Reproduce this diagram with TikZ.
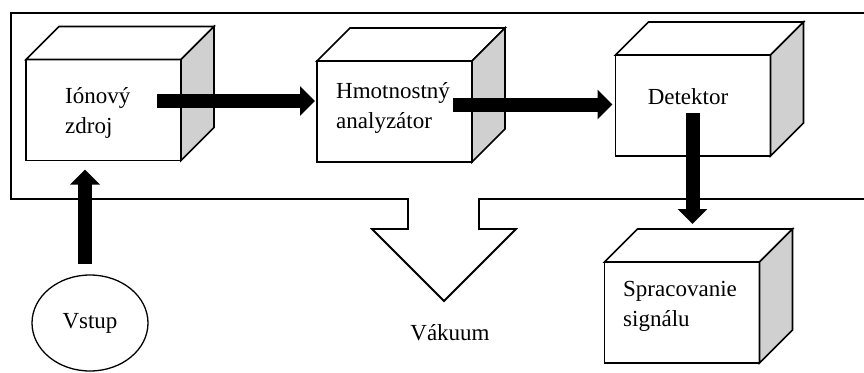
\documentclass[tikz,border=0pt]{standalone}
\usepackage{fontspec}
\setmainfont{Liberation Serif}
\usetikzlibrary{arrows.meta,shapes.geometric}
\definecolor{sidegray}{HTML}{D0D0D0}
\tikzset{
  face/.style={draw=black, line width=1.6pt, fill=white, minimum width=155pt,
    minimum height=101pt, inner sep=0pt, outer sep=0pt},
  cubeline/.style={draw=black, line width=1.6pt, line join=miter},
  lbl/.style={font=\fontsize{23}{30}\selectfont, align=left, inner sep=0pt},
  bigarrow/.style={line width=14pt, -{Triangle[length=15pt,width=29pt]}},
  framepath/.style={line width=1.8pt, line join=miter},
}
\newcommand\mycube[3]{%
  \node[face] (#1) at (#2,#3) {};
  \draw[cubeline, fill=white] (#1.north west) -- ++(33,-33) -- ++(155,0) -- (#1.north east) -- cycle;
  \draw[cubeline, fill=sidegray] (#1.north east) -- ++(33,-33) -- ++(0,101) -- (#1.south east) -- cycle;
}
\begin{document}
\begin{tikzpicture}[x=1pt,y=-1pt]
\useasboundingbox (0,0) rectangle (864,372);
% frame with vacuum notch
\draw[framepath] (864,13) -- (11,13) -- (11,199) -- (408,199) -- (408,229) -- (372,229)
  -- (444,301) -- (516,229) -- (479,229) -- (479,199) -- (864,199);
\node[lbl, anchor=center] (vak) at (450,333) {Vákuum};
% cubes
\mycube{ion}{103.5}{110}
\mycube{hm}{394.5}{111.5}
\mycube{det}{693}{105.5}
\mycube{sp}{682}{312.5}
% labels
\node[lbl, anchor=west] (ionl) at (65,113) {Iónový\\zdroj};
\node[lbl, anchor=west] (hml) at (336,108) {Hmotnostný\\analyzátor};
\node[lbl, anchor=center] (detl) at (688,97) {Detektor};
\node[lbl, anchor=west] (spl) at (623,306.5) {Spracovanie\\signálu};
% input
\node[draw, ellipse, line width=1.3pt, minimum width=116pt, minimum height=96pt,
  inner sep=0pt, outer sep=0pt, font=\fontsize{23}{30}\selectfont] (vstup) at (90,323) {Vstup};
% arrows
\draw[bigarrow] ([xshift=-24pt,yshift=9pt]ion.east) -- ([xshift=-2pt,yshift=10.5pt]hm.west);
\draw[bigarrow] ([xshift=-19pt,yshift=7pt]hm.east) -- ([xshift=-3pt,yshift=1pt]det.west);
\draw[bigarrow] ([xshift=-0.5pt,yshift=-7.5pt]det.center) -- ([xshift=10.5pt,yshift=38pt]sp.north);
\draw[bigarrow] ([xshift=-5pt,yshift=11pt]vstup.north) -- ([xshift=-18.5pt,yshift=-9pt]ion.south);
\end{tikzpicture}
\end{document}
